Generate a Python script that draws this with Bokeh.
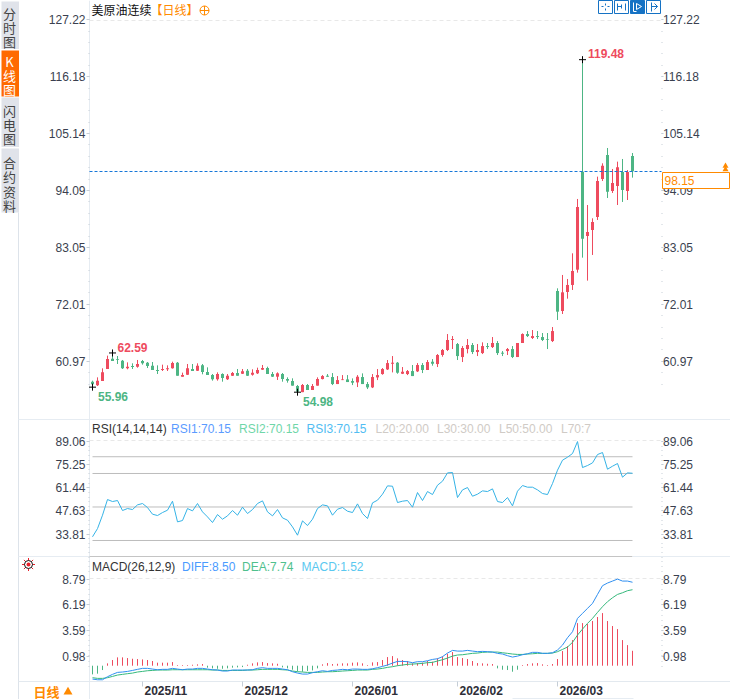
from bokeh.plotting import figure
from bokeh.models import Range1d, LinearAxis, FixedTicker, ColumnDataSource
from bokeh.core.properties import value
from bokeh.embed import file_html
from bokeh.resources import INLINE
import numpy as np

title = "美原油连续"
opens = [57.02,56.31,57.15,59.48,61.49,61.36,61.1,59.61,60.06,59.93,
 61.03,60.71,60.13,59.29,59.29,59.42,59.61,60.71,57.99,58.38,
 59.48,59.16,60.19,58.9,58.32,57.47,58.51,57.47,58.19,58.7,
 58.57,59.16,58.38,58.64,59.35,59.67,58.51,57.99,58.51,57.54,
 57.15,56.18,54.99,56.38,55.4,56.25,57.53,58.17,57.92,56.56,
 57.33,57.46,57.14,56.88,57.92,56.56,55.91,57.85,58.5,59.4,
 60.5,60.7,58.56,58.5,59.08,59.02,60.25,59.28,60.89,60.44,
 62.19,63.16,65.1,64.32,61.8,63.35,64.13,62.77,62.57,63.93,
 63.74,64.52,62.64,62.96,63.35,61.8,64.52,66.26,65.49,65.87,
 65.68,65.29,64.9,74.61,70.73,74.42,75.78,78.75,97.76,85.28,
 86.44,88.97,96.34,100.99,94.01,94.98,97.7,94.01,100.8]
closes = [56.5,57.22,58.83,61.42,61.03,61.23,59.61,59.93,59.87,60.45,
 60.58,60.06,59.29,59.09,59.48,59.61,60.65,58.19,58.32,59.61,
 59.09,60.13,58.9,58.32,57.47,58.51,57.73,58.19,58.7,58.19,
 59.03,58.19,58.77,59.29,59.67,58.51,57.99,58.64,57.54,57.22,
 56.25,55.08,56.38,55.4,56.18,57.54,58.11,57.98,56.56,57.33,
 57.46,56.95,56.82,57.98,56.56,55.91,57.92,58.3,59.47,60.63,
 60.7,58.76,58.95,59.08,58.11,60.25,59.28,60.83,60.5,62.19,
 63.16,65.1,65.29,61.99,63.55,64.13,62.77,63.16,63.93,63.74,
 64.52,62.57,62.45,63.35,61.8,64.52,66.26,65.87,65.87,65.68,
 65.1,65.16,66.84,70.6,74.35,75.78,78.49,90.91,84.76,86.06,
 88.0,95.95,98.92,93.88,95.56,98.6,94.2,97.7,97.82]
highs = [57.22,57.86,59.61,62.07,62.59,62.0,61.23,60.77,60.58,61.23,
 61.23,60.84,60.84,60.19,60.32,60.19,60.9,60.84,58.77,60.45,
 60.45,60.58,60.45,59.8,58.51,58.83,58.64,58.51,58.9,59.48,
 59.48,59.48,59.42,59.74,60.26,59.93,58.9,58.83,58.7,57.86,
 57.67,56.38,56.57,56.57,56.57,57.86,58.3,58.5,58.69,58.11,
 58.3,58.3,57.66,58.3,58.63,56.95,58.5,59.47,59.66,61.22,
 61.99,60.83,59.86,59.28,60.25,60.63,60.63,61.22,61.41,62.38,
 63.35,66.26,65.87,64.52,63.93,65.29,64.52,64.32,64.65,64.52,
 65.68,64.9,62.96,63.55,63.93,64.52,66.39,66.84,67.04,66.84,
 66.46,66.46,67.62,75.13,77.72,76.94,81.92,92.46,119.48,91.29,
 88.71,96.79,99.38,102.35,98.28,99.7,100.22,98.08,101.38]
lows = [55.96,56.18,57.15,59.48,61.03,60.45,59.48,59.42,59.48,59.74,
 60.32,59.67,59.29,58.51,59.09,59.09,59.55,58.19,57.99,58.32,
 59.09,59.09,58.45,58.32,57.22,57.22,57.02,57.35,58.12,58.19,
 58.51,58.12,58.19,58.51,59.29,58.51,57.93,57.35,57.02,56.83,
 56.25,54.98,54.99,55.4,55.4,56.25,57.46,57.98,56.36,56.56,
 57.33,56.95,56.36,55.98,56.56,55.59,55.78,57.33,58.37,59.28,
 58.82,58.56,58.5,58.3,58.11,58.89,58.69,59.28,60.12,59.86,
 61.86,62.96,63.35,61.22,60.83,62.51,62.38,61.99,62.38,63.35,
 63.55,62.19,61.99,62.19,61.6,61.8,64.52,65.68,65.29,65.29,
 64.9,63.35,64.71,68.99,70.15,73.12,74.81,78.17,81.08,76.62,
 81.6,88.38,95.95,92.65,93.62,91.29,91.88,92.26,96.6]
rsi = [32.2,37.1,45.1,54.45,53.26,53.86,47.89,49.08,48.48,51.27,
 52.07,49.68,45.7,44.9,46.69,48.09,53.46,41.12,41.92,49.08,
 47.69,52.07,47.09,44.1,40.72,45.5,42.71,44.7,47.89,45.1,
 49.88,46.1,48.48,52.07,53.66,47.09,44.7,48.48,43.51,42.12,
 38.13,33.16,41.72,38.93,42.71,49.08,51.27,50.67,45.1,48.68,
 49.68,47.49,46.69,51.87,46.1,43.11,52.46,54.06,57.64,62.61,
 62.41,52.66,53.46,53.86,49.88,58.63,53.86,59.23,57.44,63.01,
 65.4,70.37,70.57,55.65,60.22,61.62,56.44,57.64,59.63,59.23,
 60.82,53.26,52.66,55.65,50.67,59.43,62.81,61.82,61.82,60.22,
 58.04,57.44,64.0,71.97,77.94,79.73,81.92,89.06,73.56,74.75,
 76.34,81.32,82.51,72.56,74.35,75.95,67.79,70.37,70.15]
macd = [-.88,-.81,-.44,.24,.58,.85,.85,.78,.71,.68,
 .64,.58,.48,.31,.31,.31,.37,.07,.07,.07,
 .1,.14,.17,-.2,-.27,-.31,-.31,-.27,-.2,-.17,
 -.14,.1,.24,.34,.37,.27,.24,.2,-.17,-.27,
 -.41,-.58,-.61,-.54,-.48,-.27,.14,.27,.17,.2,
 .24,.24,.31,.34,.24,.07,.34,.37,.58,.88,
 .98,.75,.58,.48,.24,.27,.31,.48,.41,.75,
 .95,1.22,1.39,.88,.78,.68,.48,.27,.24,.2,
 .17,-.27,-.41,-.44,-.61,-.41,.07,.17,.24,.27,
 .14,.07,.17,.68,1.49,2.0,2.61,4.34,4.34,4.24,
 4.55,4.96,5.36,4.55,4.04,3.73,2.61,2.1,1.52]
diff = [-1.36,-1.43,-1.43,-1.12,-.88,-.68,-.64,-.58,-.48,-.37,
 -.27,-.27,-.34,-.41,-.37,-.37,-.27,-.34,-.41,-.34,
 -.34,-.27,-.27,-.34,-.41,-.44,-.54,-.54,-.44,-.44,
 -.44,-.44,-.41,-.27,-.2,-.27,-.27,-.27,-.34,-.41,
 -.61,-.75,-.85,-.85,-.71,-.61,-.51,-.58,-.48,-.44,
 -.37,-.41,-.34,-.34,-.37,-.37,-.31,-.2,-.07,.07,
 .27,.44,.44,.41,.31,.41,.41,.51,.64,.71,
 .92,1.29,1.56,1.49,1.49,1.56,1.49,1.43,1.46,1.43,
 1.39,1.26,1.19,1.02,.88,.98,1.12,1.22,1.36,1.36,
 1.26,1.26,1.32,1.6,2.1,2.85,3.46,4.82,5.33,5.84,
 6.35,7.26,8.15,8.42,8.62,8.82,8.62,8.62,8.5]
dea = [-1.22,-1.29,-1.29,-1.22,-1.09,-.95,-.88,-.81,-.75,-.64,
 -.58,-.51,-.48,-.44,-.44,-.44,-.41,-.41,-.41,-.41,
 -.41,-.41,-.41,-.41,-.44,-.44,-.48,-.48,-.48,-.48,
 -.48,-.44,-.44,-.41,-.37,-.37,-.37,-.37,-.41,-.44,
 -.54,-.61,-.64,-.68,-.68,-.68,-.64,-.61,-.61,-.58,
 -.54,-.51,-.48,-.44,-.44,-.44,-.37,-.34,-.27,-.17,
 -.1,0,.07,.14,.17,.2,.24,.31,.34,.48,
 .61,.78,.98,1.09,1.12,1.19,1.26,1.29,1.36,1.39,
 1.39,1.39,1.32,1.26,1.19,1.15,1.15,1.19,1.22,1.26,
 1.26,1.26,1.29,1.43,1.66,1.9,2.38,3.12,3.73,4.31,
 4.82,5.43,6.01,6.52,6.92,7.26,7.43,7.64,7.74]
rsi_levels = [80, 70, 50, 30]
price_ticks = [127.22, 116.18, 105.14, 94.09, 83.05, 72.01, 60.97]
rsi_ticks = [89.06, 75.25, 61.44, 47.63, 33.81]
macd_ticks = [8.79, 6.19, 3.59, 0.98]
month_labels = ["2025/11", "2025/12", "2026/01", "2026/02", "2026/03"]
month_index = [10, 30, 52, 73, 93]
extremes = [(98, 119.48, "119.48"), (4, 62.59, "62.59"), (0, 55.96, "55.96"), (41, 54.98, "54.98")]
last_price = 98.15

RED, GREEN = "#ee4b5e", "#4db584"
ORANGE, BLUE = "#ff8a00", "#1572c4"
SANS, CJK = "Liberation Sans", "Noto Sans CJK SC"
AXC = "#3a3f4f"

# 730x699 canvas; each value scale is fitted to the panel's pixel band
p = figure(width=730, height=699, output_backend="svg", toolbar_location=None,
           x_range=Range1d(-18.4, 127.6), y_range=Range1d(-4.63, 130.96),
           x_axis_location=None, y_axis_location=None, min_border=0,
           outline_line_color=None, background_fill_color="white")
p.extra_y_ranges = {"rsi": Range1d(-64.93, 352.39), "macd": Range1d(-3.44, 67.74),
                    "px": Range1d(699, 0)}
p.extra_x_ranges = {"px": Range1d(0, 730)}
p.xgrid.visible = False
p.ygrid.visible = False
P = dict(x_range_name="px", y_range_name="px")


def line(xs, ys, color, width=1, dash="solid", level="underlay"):
    r = p.line(xs, ys, line_color=color, line_width=width, line_dash=dash, **P)
    r.level = level
    return r


def rect(x0, y0, x1, y1, fill, stroke=None, level="underlay"):
    r = p.quad(left=[x0], right=[x1], top=[y0], bottom=[y1], fill_color=fill,
               line_color=stroke, line_width=1, **P)
    r.level = level
    return r


def text(x, y, s, color, size=12, font=SANS, style="normal", align="left"):
    r = p.text([x], [y], text=[s], text_color=color, text_font=value(font),
               text_font_size=f"{size}px", text_font_style=style,
               text_align=align, text_baseline="middle", **P)
    r.level = "overlay"
    return r


# side tabs
rect(1, 1, 18.5, 48.5, "#e0e3ea")
rect(1, 50, 18.5, 96, "#ff6a00")
rect(1, 97, 18.5, 146.5, "#e0e3ea")
rect(1, 148, 18.5, 212, "#e0e3ea")
for y, s in zip((13, 27, 41), "分时图"):
    text(9, y, s, "#444444", 13, CJK, align="center")
for y, s in zip((60.5, 75, 89), "K线图"):
    text(9, y, s, "white", 13, CJK, align="center")
for y, s in zip((110, 124, 138), "闪电图"):
    text(9, y, s, "#444444", 13, CJK, align="center")
for y, s in zip((162, 176, 191, 205), "合约资料"):
    text(9, y, s, "#444444", 13, CJK, align="center")

# frame lines
line([18, 18], [212, 699], "#dde3ea")
line([89, 89], [0, 699], "#e6ecf2")
line([18, 730], [419, 419], "#e6ecf2")
line([18, 89], [556, 556], "#e6ecf2")
line([89, 632], [556, 556], "#c4c4c4")
line([632, 730], [556, 556], "#e6ecf2")
line([18, 730], [681, 681], "#e3e9ef")
line([512, 633], [698, 698], "#e6ecf2")
for y in (20, 440, 578):
    line([89, 661], [y, y], "#e8e8e8", dash=[4, 3])


def axes(ticks, name, start, stop):
    step = (ticks[0] - ticks[1]) / 5
    minors = list(np.arange(ticks[0] + step * 40, ticks[-1] - step * 40, -step))
    minors = [m for m in minors if stop <= m <= start]
    for loc, side, out, standoff in ((-0.6, "left", 3, 1), (113.7, "right", 2, 0)):
        kw = {} if name == "default" else {"y_range_name": name}
        a = LinearAxis(ticker=FixedTicker(ticks=ticks, minor_ticks=minors),
                       fixed_location=loc, axis_line_color=None,
                       major_tick_line_color="#c6ced6", major_tick_out=out, major_tick_in=0,
                       minor_tick_line_color="#c6ced6", minor_tick_out=1, minor_tick_in=0,
                       major_label_text_font=SANS, major_label_text_font_size="12px",
                       major_label_text_color=AXC, major_label_standoff=standoff,
                       major_label_text_font_style="normal", **kw)
        p.add_layout(a, side)


axes(price_ticks, "default", 127.22, 55.5)
axes(rsi_ticks, "rsi", 89.06, 10)
axes(macd_ticks, "macd", 8.79, -0.5)

# candles
n = len(opens)
idx = list(range(n))
colors = [RED if c >= o else GREEN for o, c in zip(opens, closes)]
src = ColumnDataSource(dict(x=idx, o=opens, c=closes, h=highs, l=lows, color=colors))
p.segment("x", "h", "x", "l", source=src, line_color="color", line_width=1)
p.vbar("x", 0.6, "o", "c", source=src, fill_color="color", line_color=None)

# current price line
line([89, 661], [171, 171], "#1677d8", dash=[3, 2], level="glyph")

# extremes
for i, v, s in extremes:
    m = p.scatter([i], [v], marker="cross", size=7, line_color="black", line_width=1)
text(587.5, 52.5, extremes[0][2], RED, style="bold")
text(117, 346.5, extremes[1][2], RED, style="bold")
text(97.5, 395.5, extremes[2][2], GREEN, style="bold")
text(302.5, 400.5, extremes[3][2], GREEN, style="bold")

# RSI
for lv in rsi_levels:
    p.line([0, n - 1], [lv, lv], line_color="#bdbdbd", line_width=1, y_range_name="rsi")
p.line(idx, rsi, line_color="#35b3e6", line_width=1, y_range_name="rsi")

# MACD
bar_colors = [RED if m >= 0 else GREEN for m in macd]
msrc = ColumnDataSource(dict(x=idx, m=macd, zero=[0] * n, color=bar_colors))
p.segment("x", "zero", "x", "m", source=msrc, line_color="color", line_width=1, y_range_name="macd")
p.line(idx, dea, line_color="#35b97c", line_width=1, y_range_name="macd")
p.line(idx, diff, line_color="#2f8ff0", line_width=1, y_range_name="macd")

# month ticks and labels
p.segment(month_index, [681] * 5, month_index, [686] * 5, line_color="#c6ced6", line_width=1,
          y_range_name="px")
for i, s in zip(month_index, month_labels):
    text(92 + 5 * i + 2, 690, s, "#2e2e38", style="bold")

# headers
text(91, 9, title, "#111111", 12, CJK)
text(150, 9, "【日线】", ORANGE, 12, CJK)
o = p.scatter([204], [10], marker="circle_cross", size=9, line_color=ORANGE,
              fill_color=None, line_width=1, **P)
o.level = "overlay"

text(91.5, 428, "RSI(14,14,14)", "#333333")
text(170.5, 428, "RSI1:70.15", "#5b9bff")
text(238.5, 428, "RSI2:70.15", "#6fd6a8")
text(306, 428, "RSI3:70.15", "#52bdf2")
for x, s in zip((375, 436.5, 498.5, 560.5), ("L20:20.00", "L30:30.00", "L50:50.00", "L70:7")):
    text(x, 428, s, "#d0cbc6")

text(91.5, 566.5, "MACD(26,12,9)", "#333333")
text(181.5, 566.5, "DIFF:8.50", "#4a9bff")
text(241.5, 566.5, "DEA:7.74", "#4fc08d")
text(301, 566.5, "MACD:1.52", "#5ac8f0")

# current price tag
rect(662, 172, 729, 188, "white", ORANGE, level="overlay")
text(664, 180, f"{last_price:.2f}", ORANGE)
for y in (165.5, 169):
    t = p.scatter([725], [y], marker="triangle", size=6, fill_color=ORANGE, line_color=None, **P)
    t.level = "overlay"

# bottom-left period control
text(33, 690.5, "日线", ORANGE, 13, CJK, style="bold")
t = p.scatter([67.5], [691.5], marker="triangle", size=9, fill_color=ORANGE, line_color=None, **P)
t.level = "overlay"

# sun icon
s1 = p.scatter([28], [564], marker="asterisk", size=13, line_color="#e8202a", line_width=1, **P)
s2 = p.scatter([28], [564], marker="circle", size=8, fill_color="white", line_color="#111111", **P)
s3 = p.scatter([28], [564], marker="circle", size=4, fill_color="#e8202a", line_color=None, **P)
for s in (s1, s2, s3):
    s.level = "overlay"

# toolbar buttons
for k, x0 in enumerate((598, 614, 630, 646)):
    filled = k == 2
    rect(x0, 0, x0 + 14, 13, BLUE if filled else "white", BLUE, level="overlay")
    ink = "white" if filled else BLUE
    if k == 0:
        segs = [([x0 + 7] * 2, [3, 5]), ([x0 + 7] * 2, [8, 10]), ([x0 + 3, x0 + 5], [6, 6]),
                ([x0 + 9, x0 + 11], [6, 6])]
    elif k == 1:
        segs = [([x0 + 3] * 2, [3, 10]), ([x0 + 11] * 2, [3, 10]), ([x0 + 3, x0 + 7], [6, 6]),
                ([x0 + 7] * 2, [4, 8])]
    elif k == 2:
        segs = [([x0 + 3] * 2, [2, 11]), ([x0 + 3, x0 + 6], [11, 11]), ([x0 + 6, x0 + 11], [3, 6]),
                ([x0 + 6, x0 + 11], [9, 6]), ([x0 + 6, x0 + 6], [3, 9])]
    else:
        segs = [([x0 + 5] * 2, [2, 11]), ([x0 + 5, x0 + 11], [6, 6]), ([x0 + 8, x0 + 11], [3, 6]),
                ([x0 + 8, x0 + 11], [9, 6])]
    for xs, ys in segs:
        r = p.line(xs, ys, line_color=ink, line_width=1, **P)
        r.level = "overlay"

html = file_html(p, INLINE)
html = html.replace("<head>", "<head><style>html,body{margin:0;overflow:hidden}</style>", 1)
open("out.html", "w").write(html)
